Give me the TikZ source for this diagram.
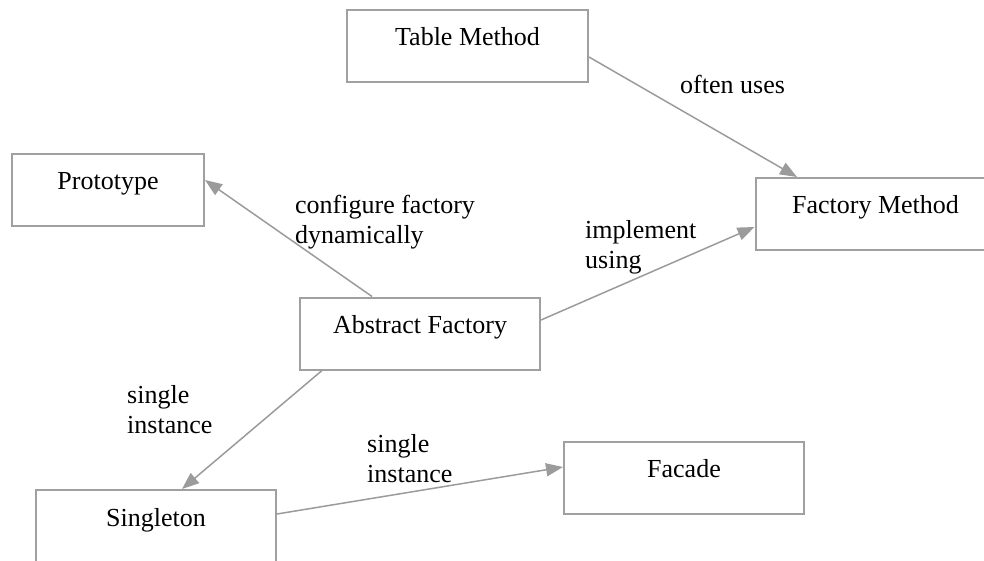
\documentclass[tikz,border=0pt]{standalone}
\usepackage{fontspec}
\setmainfont{Liberation Serif}
\usetikzlibrary{arrows.meta}
\definecolor{linegray}{RGB}{155,155,155}
\definecolor{boxgray}{RGB}{160,160,160}
\newcommand\figfont{\fontsize{26}{30}\selectfont}
\begin{document}
\begin{tikzpicture}[x=1pt,y=-1pt,
  box/.style={draw=boxgray, line width=2pt, rectangle, inner sep=0pt,
    text height=36pt, text depth=36pt, minimum width=#1, font=\figfont},
  box/.default=240pt,
  conn/.style={draw=linegray, line width=1.5pt, -{Triangle[length=17pt,width=13pt]}},
  lbl/.style={anchor=north west, inner sep=0pt, align=left, font=\figfont}
]
\useasboundingbox (0,0) rectangle (984,561);
\clip (0,0) rectangle (984,561);
\node[box=241pt] (table) at (467.5,46) {Table Method};
\node[box=192pt] (proto) at (108,190) {Prototype};
\node[box] (factory) at (875.5,214) {Factory Method};
\node[box] (abstract) at (420,333.5) {Abstract Factory};
\node[box] (single) at (156,526) {Singleton};
\node[box] (facade) at (684,477.5) {Facade};

\draw[conn] ([yshift=-11pt]table.east) -- ([xshift=-78.5pt]factory.north);
\draw[conn] ([xshift=-48pt]abstract.north) -- ([yshift=10pt]proto.east);
\draw[conn] ([yshift=13.5pt]abstract.east) -- ([yshift=-13pt]factory.west);
\draw[conn] ([xshift=-98pt]abstract.south) -- ([xshift=26pt]single.north);
\draw[conn] ([yshift=12pt]single.east) -- ([yshift=10.5pt]facade.west);

\node[lbl] (l1) at (680,72) {\strut often uses};
\node[lbl] (l2) at (295,192) {\strut configure factory\\\strut dynamically};
\node[lbl] (l3) at (585,217) {\strut implement\\\strut using};
\node[lbl] (l4) at (127,382) {\strut single\\\strut instance};
\node[lbl] (l5) at (367,431) {\strut single\\\strut instance};
\end{tikzpicture}
\end{document}
